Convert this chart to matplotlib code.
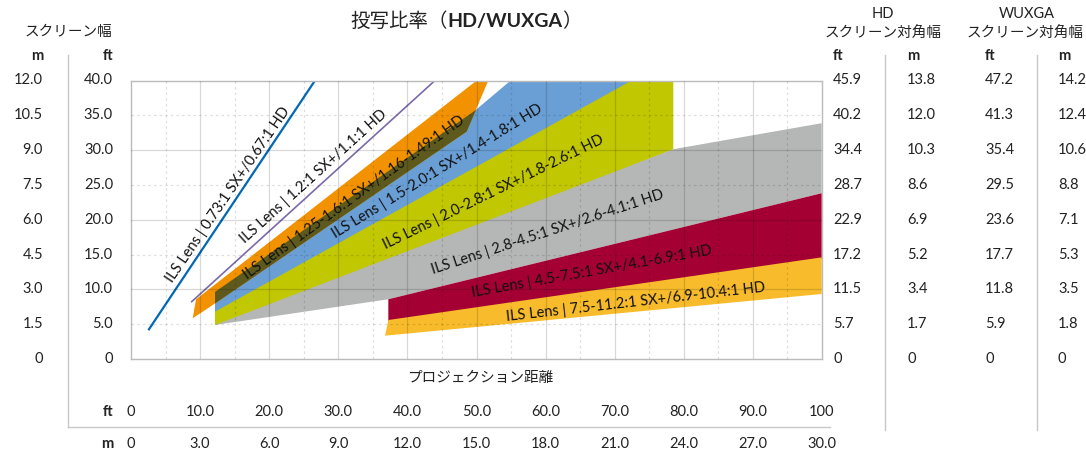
import matplotlib
matplotlib.use('Agg')
import matplotlib.pyplot as plt
from matplotlib.transforms import blended_transform_factory

plt.rcParams['font.family'] = ['Lato', 'Noto Sans CJK JP', 'DejaVu Sans']

# lens bands (projection distance ft, screen width ft) - visible outlines
gray_x = [12.16, 12.16, 78.48, 99.96, 99.96, 37.24]
gray_y = [4.89, 6.0, 30.13, 33.87, 23.81, 8.58]
green_x = [12.16, 66.0, 78.48, 78.48, 12.16]
green_y = [8.0, 40.0, 40.0, 30.13, 4.89]
blue_x = [12.16, 50.03, 54.95, 72.46, 12.16]
blue_y = [9.53, 35.88, 40.0, 40.0, 6.80]
orange_x = [8.93, 9.41, 50.03, 51.71, 48.58, 12.16]
orange_y = [5.85, 8.58, 40.0, 40.0, 32.66, 7.97]
dark_x = [12.16, 49.93, 48.58, 12.16]
dark_y = [9.63, 35.78, 32.66, 7.97]
red_x = [37.24, 99.96, 99.96, 37.24]
red_y = [8.58, 23.81, 14.37, 5.36]
yellow_x = [37.24, 99.96, 99.96, 36.76]
yellow_y = [5.6, 14.6, 9.34, 3.35]
line073_x = [2.6, 26.63]
line073_y = [4.27, 40.0]
line12_x = [8.78, 43.99]
line12_y = [8.23, 40.0]

labels = ['ILS Lens | 0.73:1 SX+/0.67:1 HD',
          'ILS Lens | 1.2:1 SX+/1.1:1 HD',
          'ILS Lens | 1.25-1.6:1 SX+/1.16-1.49:1 HD',
          'ILS Lens | 1.5-2.0:1 SX+/1.4-1.8:1 HD',
          'ILS Lens | 2.0-2.8:1 SX+/1.8-2.6:1 HD',
          'ILS Lens | 2.8-4.5:1 SX+/2.6-4.1:1 HD',
          'ILS Lens | 4.5-7.5:1 SX+/4.1-6.9:1 HD',
          'ILS Lens | 7.5-11.2:1 SX+/6.9-10.4:1 HD']
label_x = [14.04, 26.48, 32.27, 44.28, 52.43, 60.27, 66.67, 73.06]
label_y = [23.56, 26.22, 23.28, 27.0, 23.95, 18.18, 12.54, 8.23]
label_rot = [55.7, 42.0, 35.8, 31.5, 26.0, 18.2, 10.1, 6.5]

y_ft = [0, 5, 10, 15, 20, 25, 30, 35, 40]
y_ft_lab = ['0', '5.0', '10.0', '15.0', '20.0', '25.0', '30.0', '35.0', '40.0']
y_m_lab = ['0', '1.5', '3.0', '4.5', '6.0', '7.5', '9.0', '10.5', '12.0']
hd_ft = ['0', '5.7', '11.5', '17.2', '22.9', '28.7', '34.4', '40.2', '45.9']
hd_m = ['0', '1.7', '3.4', '5.2', '6.9', '8.6', '10.3', '12.0', '13.8']
wx_ft = ['0', '5.9', '11.8', '17.7', '23.6', '29.5', '35.4', '41.3', '47.2']
wx_m = ['0', '1.8', '3.5', '5.3', '7.1', '8.8', '10.6', '12.4', '14.2']
x_ft = [0, 10, 20, 30, 40, 50, 60, 70, 80, 90, 100]
x_ft_lab = ['0', '10.0', '20.0', '30.0', '40.0', '50.0', '60.0', '70.0', '80.0', '90.0', '100']
x_m_lab = ['0', '3.0', '6.0', '9.0', '12.0', '15.0', '18.0', '21.0', '24.0', '27.0', '30.0']

W, H = 1086, 454
fig = plt.figure(figsize=(W / 100, H / 100), dpi=100)
ax = fig.add_axes([131 / W, 1 - 359 / H, 691 / W, 278.5 / H])

ax.fill(gray_x, gray_y, color='#b5b7b6', lw=0, zorder=1)
ax.fill(green_x, green_y, color='#c1c700', lw=0, zorder=1)
ax.fill(blue_x, blue_y, color='#6a9fd5', lw=0, zorder=1)
ax.fill(orange_x, orange_y, color='#f29200', lw=0, zorder=1)
ax.fill(dark_x, dark_y, color='#5e5a1e', lw=0, zorder=1)
ax.fill(red_x, red_y, color='#a50034', lw=0, zorder=1)
ax.fill(yellow_x, yellow_y, color='#f8bb2b', lw=0, zorder=1)
ax.plot(line073_x, line073_y, color='#0069b4', lw=1.6, zorder=2)
ax.plot(line12_x, line12_y, color='#7b6aa8', lw=1.2, zorder=2)

for s, x, y, r in zip(labels, label_x, label_y, label_rot):
    ax.text(x, y, s, rotation=r, rotation_mode='anchor', ha='center', va='center',
            fontsize=10.5, color='#111111', zorder=4)

ax.set_xlim(0, 100)
ax.set_ylim(0, 40)
ax.set_xticks(range(10, 100, 10))
ax.set_xticks(range(5, 100, 10), minor=True)
ax.set_yticks([10, 20, 30])
ax.set_yticks([5, 15, 25, 35], minor=True)
ax.tick_params(which='both', length=0, labelbottom=False, labelleft=False)
ax.set_axisbelow(False)
ax.grid(which='major', color='black', alpha=0.15, lw=0.9)
ax.grid(which='minor', color='black', alpha=0.13, lw=0.9, linestyle=(0, (2, 2.5)))
for sp in ax.spines.values():
    sp.set_color('#bbbbbb')
    sp.set_linewidth(1.0)

tc = '#222222'
fs = 10.5
ty = blended_transform_factory(fig.transFigure, ax.transData)
tx = blended_transform_factory(ax.transData, fig.transFigure)

for y, a, b, c, d, e, f in zip(y_ft, y_m_lab, y_ft_lab, hd_ft, hd_m, wx_ft, wx_m):
    ax.text(43 / W, y, a, transform=ty, ha='right', va='center', fontsize=fs, color=tc)
    ax.text(113 / W, y, b, transform=ty, ha='right', va='center', fontsize=fs, color=tc)
    ax.text(833 / W, y, c, transform=ty, ha='left', va='center', fontsize=fs, color=tc)
    ax.text(907 / W, y, d, transform=ty, ha='left', va='center', fontsize=fs, color=tc)
    ax.text(985 / W, y, e, transform=ty, ha='left', va='center', fontsize=fs, color=tc)
    ax.text(1058 / W, y, f, transform=ty, ha='left', va='center', fontsize=fs, color=tc)

for x, a, b in zip(x_ft, x_ft_lab, x_m_lab):
    ax.text(x, 1 - 412 / H, a, transform=tx, ha='center', va='center', fontsize=fs, color=tc)
    ax.text(x, 1 - 444 / H, b, transform=tx, ha='center', va='center', fontsize=fs, color=tc)

def ftxt(x, y, s, **kw):
    fig.text(x / W, 1 - y / H, s, **kw)

ftxt(68.5, 32, 'スクリーン幅', ha='center', va='center', fontsize=fs, color=tc)
ftxt(37, 56, 'm', ha='center', va='center', fontsize=fs, color=tc, weight='bold')
ftxt(113, 56, 'ft', ha='right', va='center', fontsize=fs, color=tc, weight='bold')
ftxt(883, 14, 'HD', ha='center', va='center', fontsize=fs, color=tc)
ftxt(883, 33, 'スクリーン対角幅', ha='center', va='center', fontsize=fs, color=tc)
ftxt(1027, 14, 'WUXGA', ha='center', va='center', fontsize=fs, color=tc)
ftxt(1084, 33, 'スクリーン対角幅', ha='right', va='center', fontsize=fs, color=tc)
ftxt(833, 56, 'ft', ha='left', va='center', fontsize=fs, color=tc, weight='bold')
ftxt(907, 56, 'm', ha='left', va='center', fontsize=fs, color=tc, weight='bold')
ftxt(985, 56, 'ft', ha='left', va='center', fontsize=fs, color=tc, weight='bold')
ftxt(1058, 56, 'm', ha='left', va='center', fontsize=fs, color=tc, weight='bold')
ftxt(113, 412, 'ft', ha='right', va='center', fontsize=fs, color=tc, weight='bold')
ftxt(113, 444, 'm', ha='right', va='center', fontsize=fs, color=tc, weight='bold')
ftxt(407, 378, 'プロジェクション距離', ha='left', va='center', fontsize=fs, color=tc)

sep = '#c8c8c8'
fig.add_artist(plt.Line2D([68 / W, 68 / W], [1 - 55 / H, 1 - 427 / H], color=sep, lw=1))
fig.add_artist(plt.Line2D([68 / W, 830 / W], [1 - 427 / H, 1 - 427 / H], color=sep, lw=1))
fig.add_artist(plt.Line2D([885 / W, 885 / W], [1 - 55 / H, 1 - 430 / H], color=sep, lw=1))
fig.add_artist(plt.Line2D([1037 / W, 1037 / W], [1 - 55 / H, 1 - 430 / H], color=sep, lw=1))

# title in three pieces: bold only for HD/WUXGA
fig.canvas.draw()
r = fig.canvas.get_renderer()
x0 = 350
parts = [('投写比率（', 'normal'), ('HD/WUXGA', 'bold'), ('）', 'normal')]
for s, wgt in parts:
    t = fig.text(x0 / W, 1 - 21 / H, s, ha='left', va='center', fontsize=14,
                 color=tc, weight=wgt)
    x0 = t.get_window_extent(r).x1

fig.savefig('out.png', dpi=100)
